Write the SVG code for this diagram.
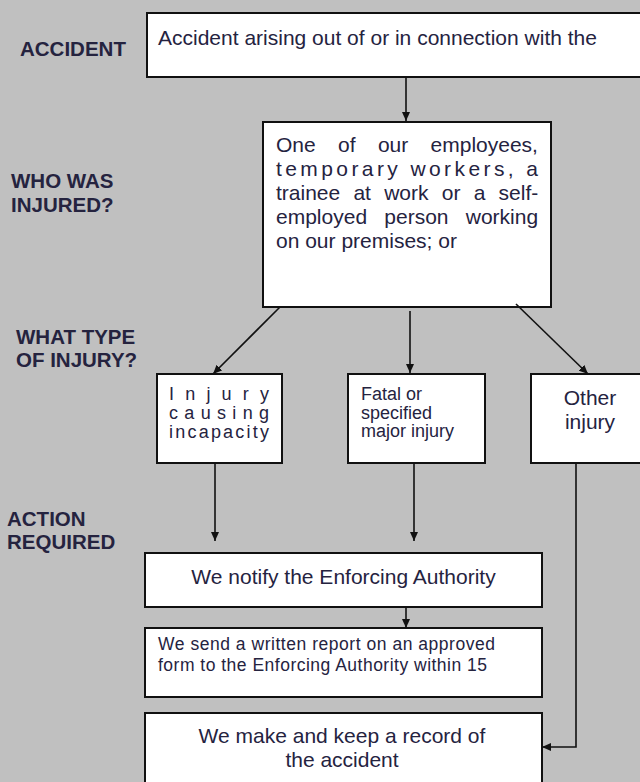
<svg xmlns="http://www.w3.org/2000/svg" width="640" height="782" viewBox="0 0 640 782">
<style>
.box{fill:#fff;stroke:#111;stroke-width:2}
.t{font-family:"Liberation Sans",Arial,sans-serif;fill:#25233f}
.lbl{font-family:"Liberation Sans",Arial,sans-serif;font-weight:bold;font-size:20.5px;fill:#25233f}
.c{stroke:#111;stroke-width:1.6;fill:none}
</style>
<defs>
<marker id="ah" markerUnits="userSpaceOnUse" markerWidth="9" markerHeight="8" refX="9" refY="4" orient="auto">
<path d="M0,0 L9,4 L0,8 z" fill="#111"/>
</marker>
</defs>
<rect width="640" height="782" fill="#c0c0c0"/>

<g id="labels">
<text class="lbl" x="20" y="56">ACCIDENT</text>
<text class="lbl" x="11" y="188">WHO WAS</text>
<text class="lbl" x="11" y="212">INJURED?</text>
<text class="lbl" x="16" y="344">WHAT TYPE</text>
<text class="lbl" x="16" y="367">OF INJURY?</text>
<text class="lbl" x="7" y="526">ACTION</text>
<text class="lbl" x="7" y="549">REQUIRED</text>
</g>

<g id="accident">
<rect class="box" x="147" y="13" width="510" height="64"/>
<text class="t" font-size="21" x="158" y="45">Accident arising out of or in connection with the</text>
</g>

<g id="who">
<rect class="box" x="263" y="122" width="288" height="185"/>
<text class="t" font-size="21" x="276" y="152" word-spacing="16.5">One of our employees,</text>
<text class="t" font-size="21" x="276" y="176" textLength="262" lengthAdjust="spacing">temporary workers, a</text>
<text class="t" font-size="21" x="276" y="200" word-spacing="7.4">trainee at work or a self-</text>
<text class="t" font-size="21" x="276" y="224" word-spacing="11.4">employed person working</text>
<text class="t" font-size="21" x="276" y="248">on our premises; or</text>
</g>

<g id="incapacity">
<rect class="box" x="157" y="374" width="125" height="89"/>
<text class="t" font-size="18" x="169" y="400" textLength="100" lengthAdjust="spacing">Injury</text>
<text class="t" font-size="18" x="169" y="419" textLength="100" lengthAdjust="spacing">causing</text>
<text class="t" font-size="18" x="169" y="438" textLength="100" lengthAdjust="spacing">incapacity</text>
</g>

<g id="fatal">
<rect class="box" x="348" y="374" width="137" height="89"/>
<text class="t" font-size="18" x="361" y="400">Fatal or</text>
<text class="t" font-size="18" x="361" y="418.5">specified</text>
<text class="t" font-size="18" x="361" y="437">major injury</text>
</g>

<g id="other">
<rect class="box" x="531" y="374" width="120" height="89"/>
<text class="t" font-size="21" x="590" y="405" text-anchor="middle">Other</text>
<text class="t" font-size="21" x="590" y="429" text-anchor="middle">injury</text>
</g>

<g id="notify">
<rect class="box" x="145" y="553" width="397" height="54"/>
<text class="t" font-size="21" x="343.5" y="584" text-anchor="middle">We notify the Enforcing Authority</text>
</g>

<g id="report">
<rect class="box" x="145" y="628" width="397" height="69"/>
<text class="t" font-size="17.5" x="158" y="650" textLength="337" lengthAdjust="spacing">We send a written report on an approved</text>
<text class="t" font-size="17.5" x="158" y="670.5" textLength="329" lengthAdjust="spacing">form to the Enforcing Authority within 15</text>
</g>

<g id="record">
<rect class="box" x="145" y="713" width="397" height="80"/>
<text class="t" font-size="21" x="342" y="743" text-anchor="middle">We make and keep a record of</text>
<text class="t" font-size="21" x="342" y="767" text-anchor="middle">the accident</text>
</g>

<g id="connectors">
<line class="c" x1="406" y1="77" x2="406" y2="121" marker-end="url(#ah)"/>
<line class="c" x1="280" y1="307" x2="213" y2="374" marker-end="url(#ah)"/>
<line class="c" x1="410" y1="311" x2="410" y2="373" marker-end="url(#ah)"/>
<line class="c" x1="516" y1="304" x2="588" y2="374" marker-end="url(#ah)"/>
<line class="c" x1="215" y1="463" x2="215" y2="541" marker-end="url(#ah)"/>
<line class="c" x1="414" y1="463" x2="414" y2="541" marker-end="url(#ah)"/>
<line class="c" x1="406" y1="607" x2="406" y2="628" marker-end="url(#ah)"/>
<polyline class="c" points="576,463 576,747 542,747" marker-end="url(#ah)"/>
</g>
</svg>
